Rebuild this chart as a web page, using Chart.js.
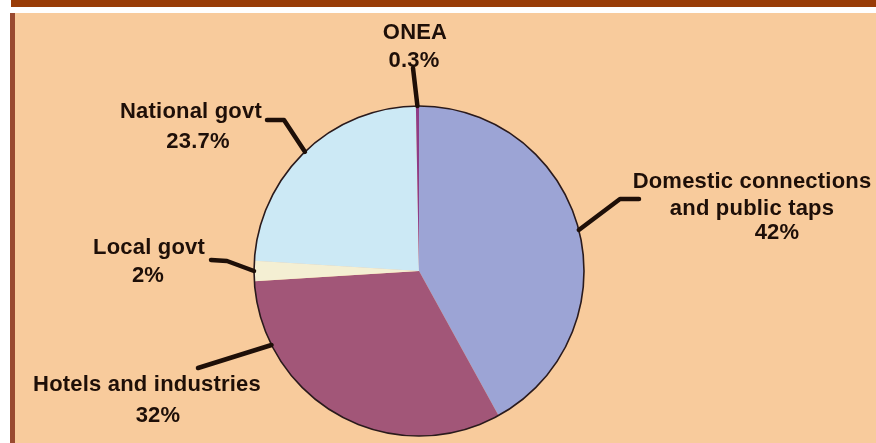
<!DOCTYPE html>
<html>
<head>
<meta charset="utf-8">
<script src="https://cdn.jsdelivr.net/npm/chart.js@4"></script>
<style>
  html, body { margin: 0; padding: 0; background: #ffffff; width: 876px; height: 443px; overflow: hidden; }
  #topbar { position: absolute; left: 11px; top: 0; width: 865px; height: 7px; background: #993c07; }
  #panel { position: absolute; left: 15px; top: 13px; width: 861px; height: 430px; background: #f8cb9c; }
  #leftbar { position: absolute; left: 10px; top: 13px; width: 5px; height: 430px; background: #9a4a30; }
  #wrap { position: absolute; left: 0; top: 0; width: 876px; height: 443px; }
</style>
</head>
<body>
<div id="topbar"></div>
<div id="panel"></div>
<div id="leftbar"></div>
<div id="wrap"><canvas id="c"></canvas></div>
<script>
// ---- data ----
const categories = ["Domestic connections and public taps", "Hotels and industries", "Local govt", "National govt", "ONEA"];
const shares = [42, 32, 2, 23.7, 0.3];
const labelLines = [["Domestic connections", "and public taps"], ["Hotels and industries"], ["Local govt"], ["National govt"], ["ONEA"]];
const sliceColors = ["#9ca4d5", "#a25678", "#f4efd3", "#cce9f5", "#8e3c86"];

// ---- label layout (annotation positions) ----
const layoutInfo = [
  { frac: 0.5, path: [[620, 199], [639, 199]], text: [[752, 188], [752, 215]], pct: [777, 239] },
  { frac: 0.8, path: [[198, 368]], text: [[147, 391]], pct: [158, 422] },
  { frac: 0.5, path: [[227, 261], [211, 260]], text: [[149, 254]], pct: [148, 282] },
  { frac: 0.5, path: [[284, 120], [267, 120]], text: [[191, 118]], pct: [198, 148] },
  { frac: 0.5, path: [[413, 68]], text: [[415, 39]], pct: [414, 67] }
];

const ink = "#1e0f08";

const labelPlugin = {
  id: "pieLabels",
  afterDatasetsDraw(chart) {
    const ctx = chart.ctx;
    const meta = chart.getDatasetMeta(0);
    const first = meta.data[0];
    ctx.save();
    // outer rim
    ctx.beginPath();
    ctx.arc(first.x, first.y, first.outerRadius, 0, Math.PI * 2);
    ctx.lineWidth = 1.6;
    ctx.strokeStyle = "#2a1a1c";
    ctx.stroke();
    // leaders and labels
    ctx.font = "bold 22px 'Liberation Sans', Arial, sans-serif";
    ctx.letterSpacing = "0.2px";
    ctx.textAlign = "center";
    ctx.textBaseline = "alphabetic";
    meta.data.forEach((arc, i) => {
      const L = layoutInfo[i];
      const a = arc.startAngle + L.frac * (arc.endAngle - arc.startAngle);
      const sx = arc.x + arc.outerRadius * Math.cos(a);
      const sy = arc.y + arc.outerRadius * Math.sin(a);
      ctx.beginPath();
      ctx.moveTo(sx, sy);
      L.path.forEach(p => ctx.lineTo(p[0], p[1]));
      ctx.lineWidth = 4.5;
      ctx.lineCap = "round";
      ctx.lineJoin = "round";
      ctx.strokeStyle = ink;
      ctx.stroke();
      ctx.fillStyle = ink;
      labelLines[i].forEach((t, j) => ctx.fillText(t, L.text[j][0], L.text[j][1]));
      ctx.fillText(shares[i] + "%", L.pct[0], L.pct[1]);
    });
    ctx.restore();
  }
};

new Chart(document.getElementById("c"), {
  type: "pie",
  data: {
    labels: categories,
    datasets: [{
      data: shares,
      backgroundColor: sliceColors,
      borderWidth: 0
    }]
  },
  options: {
    responsive: true,
    maintainAspectRatio: false,
    animation: false,
    layout: { padding: { left: 254, right: 292, top: 106, bottom: 7 } },
    plugins: {
      legend: { display: false },
      tooltip: { enabled: false },
      title: { display: false }
    }
  },
  plugins: [labelPlugin]
});
</script>
</body>
</html>
